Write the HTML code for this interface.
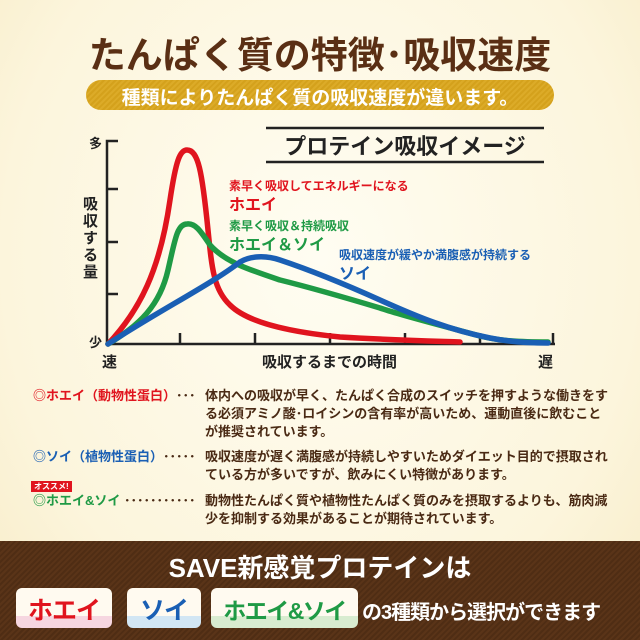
<!DOCTYPE html>
<html><head><meta charset="utf-8"><style>
body{margin:0;width:640px;height:640px;overflow:hidden;font-family:"Liberation Sans","Noto Sans CJK JP",sans-serif;}
.bg{position:absolute;left:0;top:0;width:640px;height:640px;background:radial-gradient(ellipse at 50% 40%,#fffdf2 0%,#fcf5dc 70%,#f7ecc8 100%);}
.t{position:absolute;white-space:nowrap;font-weight:bold;}
</style></head><body>
<div class="bg"></div>
<div class="t" style="left:0;width:640px;text-align:center;top:25px;font-size:37px;color:#5a2f14;letter-spacing:0px">たんぱく質の特徴･吸収速度</div>
<div style="position:absolute;left:86px;top:80px;width:468px;height:30px;border-radius:15px;background:repeating-linear-gradient(135deg,#d4a11c 0 2px,#dcab28 2px 4px)"></div>
<div class="t" style="left:86px;width:468px;text-align:center;top:83px;font-size:19px;color:#fff">種類によりたんぱく質の吸収速度が違います。</div>

<svg style="position:absolute;left:0;top:0" width="640" height="640">
<line x1="266" y1="128" x2="544" y2="128" stroke="#222" stroke-width="2.5"/>
<line x1="266" y1="162" x2="544" y2="162" stroke="#222" stroke-width="2.5"/>
<text x="405" y="154" text-anchor="middle" font-size="22" font-weight="bold" fill="#222" font-family="Liberation Sans,Noto Sans CJK JP,sans-serif">プロテイン吸収イメージ</text>
<g stroke="#222" stroke-width="2.5" fill="none">
<polyline points="118,141 107,141 107,344 555,344"/>
<line x1="107" y1="189" x2="118" y2="189"/><line x1="107" y1="242" x2="118" y2="242"/><line x1="107" y1="294" x2="118" y2="294"/>
<line x1="180" y1="344" x2="180" y2="333"/><line x1="255" y1="344" x2="255" y2="333"/><line x1="330" y1="344" x2="330" y2="333"/><line x1="405" y1="344" x2="405" y2="333"/><line x1="480" y1="344" x2="480" y2="333"/><line x1="553" y1="344" x2="553" y2="333"/>
</g>
<g fill="none" stroke-width="5.5" stroke-linecap="round">
<path d="M108,344 C140,310 160,270 170,200 C176,160 180,150 187,150 C198,150 202,170 208,230 C212,270 214,290 230,305 C250,325 300,333 340,337 C390,340 430,341 460,342" stroke="#e0141e"/>
<path d="M548,342 C520,342 500,341 480,336 C440,325 400,315 380,308 C330,293 300,285 280,280 C250,270 225,262 210,245 C200,230 195,223 187,224 C177,224 175,240 168,270 C160,305 140,325 108,344" stroke="#1f9a45"/>
<path d="M108,344 C160,310 210,285 240,262 C250,256 265,255 280,260 C310,270 340,282 380,300 C420,318 450,330 490,338 C510,342 530,343 548,343" stroke="#1a5fb4"/>
</g>
</svg>
<div class="t" style="left:89px;top:133px;font-size:13px;color:#222">多</div>
<div class="t" style="left:89px;top:332px;font-size:13px;color:#222">少</div>
<div class="t" style="left:83px;top:196px;font-size:15px;color:#222;line-height:17px;width:16px;white-space:normal">吸収する量</div>
<div class="t" style="left:102px;top:351px;font-size:15px;color:#222">速</div>
<div class="t" style="left:538px;top:351px;font-size:15px;color:#222">遅</div>
<div class="t" style="left:262px;top:351px;font-size:15px;color:#222">吸収するまでの時間</div>
<div class="t" style="left:229px;top:177px;font-size:12px;color:#e0141e">素早く吸収してエネルギーになる</div>
<div class="t" style="left:229px;top:191px;font-size:16px;color:#e0141e">ホエイ</div>
<div class="t" style="left:229px;top:217px;font-size:12px;color:#1f9a45">素早く吸収＆持続吸収</div>
<div class="t" style="left:229px;top:231px;font-size:16px;color:#1f9a45">ホエイ＆ソイ</div>
<div class="t" style="left:339px;top:246px;font-size:12px;color:#1a5fb4">吸収速度が緩やか満腹感が持続する</div>
<div class="t" style="left:339px;top:260px;font-size:16px;color:#1a5fb4">ソイ</div>

<div style="position:absolute;font-weight:bold;font-size:13px;color:#4a2a14;line-height:18px">
<div class="t" style="left:33px;top:387px;color:#e0141e">◎ホエイ（動物性蛋白）<span style="color:#4a2a14">･･･</span></div>
<div class="t" style="left:205px;top:387px;white-space:normal;width:404px">体内への吸収が早く、たんぱく合成のスイッチを押すような働きをする必須アミノ酸･ロイシンの含有率が高いため、運動直後に飲むことが推奨されています。</div>
<div class="t" style="left:33px;top:448px;color:#1a5fb4">◎ソイ（植物性蛋白）<span style="color:#4a2a14">･････</span></div>
<div class="t" style="left:205px;top:448px;white-space:normal;width:404px">吸収速度が遅く満腹感が持続しやすいためダイエット目的で摂取されている方が多いですが、飲みにくい特徴があります。</div>
<div class="t" style="left:31px;top:481px;font-size:8px;color:#fff;background:#e0141e;padding:0 3px;line-height:11px">オススメ!</div>
<div class="t" style="left:33px;top:492px;color:#1f9a45">◎ホエイ&amp;ソイ <span style="color:#4a2a14">･･･････････</span></div>
<div class="t" style="left:205px;top:492px;white-space:normal;width:404px">動物性たんぱく質や植物性たんぱく質のみを摂取するよりも、筋肉減少を抑制する効果があることが期待されています。</div>
</div>

<div style="position:absolute;left:0;top:541px;width:640px;height:99px;background:repeating-linear-gradient(135deg,#5a3418 0 2px,#4f2d14 2px 4px)"></div>
<div class="t" style="left:0;width:640px;text-align:center;top:548px;font-size:26px;color:#fff">SAVE新感覚プロテインは</div>
<div style="position:absolute;left:16px;top:588px;width:96px;height:40px;border-radius:6px;background:linear-gradient(#fffaf0 70%,#f6d6e0 70%)"></div>
<div class="t" style="left:16px;width:96px;text-align:center;top:591px;font-size:25px;color:#e0141e;letter-spacing:-1px">ホエイ</div>
<div style="position:absolute;left:127px;top:588px;width:74px;height:40px;border-radius:6px;background:linear-gradient(#fffaf0 70%,#d2e6f4 70%)"></div>
<div class="t" style="left:127px;width:74px;text-align:center;top:591px;font-size:25px;color:#1a5fb4;letter-spacing:-1px">ソイ</div>
<div style="position:absolute;left:211px;top:588px;width:147px;height:40px;border-radius:6px;background:linear-gradient(#fffaf0 70%,#d8ecd0 70%)"></div>
<div class="t" style="left:211px;width:147px;text-align:center;top:592px;font-size:23px;color:#1f9a45;letter-spacing:-1.5px">ホエイ&amp;ソイ</div>
<div class="t" style="left:362px;top:596px;font-size:20px;color:#fff;letter-spacing:-1px">の3種類から選択ができます</div>
</body></html>
